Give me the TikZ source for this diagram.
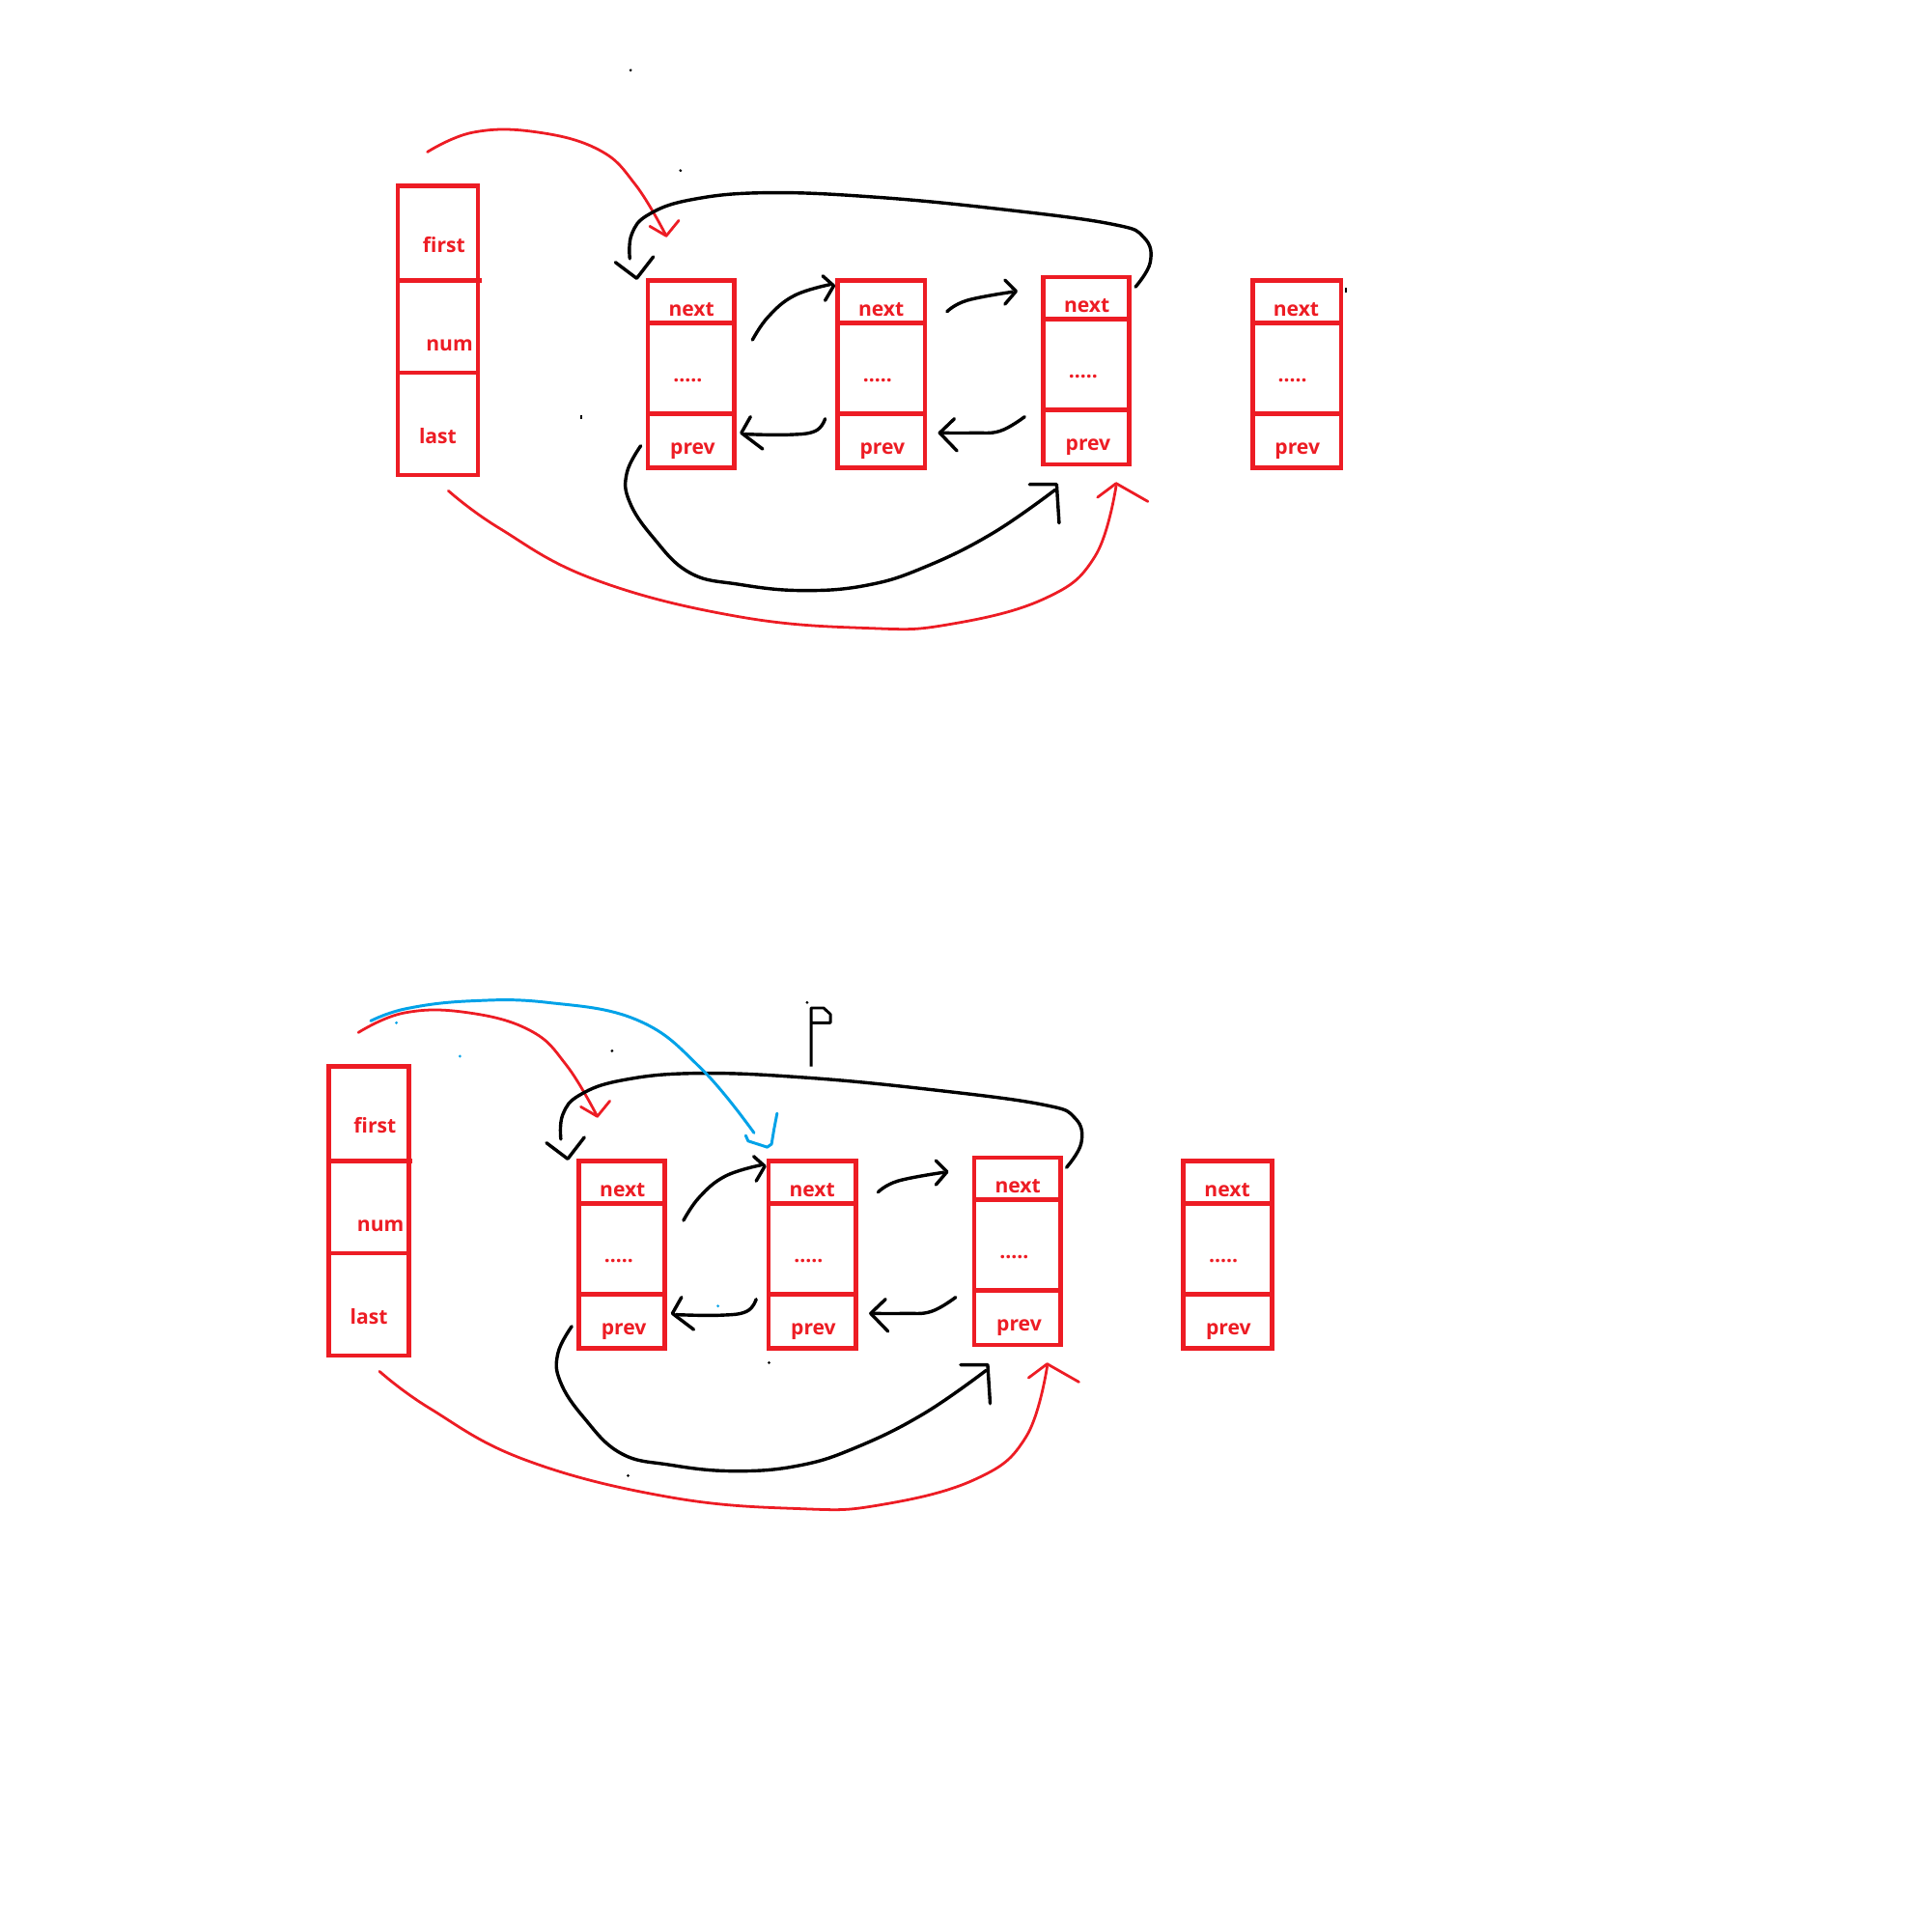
\documentclass[tikz,border=0pt]{standalone}
\usepackage{fontspec}
\setmainfont{Open Sans}
\definecolor{pred}{HTML}{ED1C24}
\definecolor{pblue}{HTML}{00A2E8}
\tikzset{
  rbox/.style={draw=pred, line width=1.05pt},
  lbl/.style={text=pred, font=\fontsize{4.7}{5}\selectfont\bfseries, inner sep=0pt, anchor=base},
  blk/.style={draw=black, line width=0.76pt, line cap=round, line join=round},
  redc/.style={draw=pred, line width=0.62pt, line cap=round, line join=round},
  bluec/.style={draw=pblue, line width=0.66pt, line cap=round, line join=round},
  crv/.style={smooth, tension=0.7},
}
% list node: name, left, top, width
\newcommand\lnode[4]{%
  \node[rbox, inner sep=0pt, outer sep=0pt, minimum width=#4*0.01cm, minimum height=1.52cm, anchor=north west] (#1) at (#2,#3) {};
  \draw[rbox] (#2,#3+34) -- ++(#4,0);
  \draw[rbox] (#2,#3+108) -- ++(#4,0);
  \node[lbl] (#1x) at (#2+35.5,#3+28.5) {next};
  \node[lbl] (#1d) at (#2+32.5,#3+82) {.....};
  \node[lbl] (#1p) at (#2+36.5,#3+141) {prev};
}
\newcommand\llscene[1]{%
  % struct box
  \node[rbox, inner sep=0pt, outer sep=0pt, minimum width=0.65cm, minimum height=2.345cm, anchor=north west] (#1s) at (323,151) {};
  \draw[rbox] (323,227.5) -- (391,227.5);
  \draw[rbox] (323,302.5) -- (388,302.5);
  \node[lbl] (#1first) at (360.5,205) {first};
  \node[lbl] (#1num) at (365,285) {num};
  \node[lbl] (#1last) at (355.5,360) {last};
  % list nodes
  \lnode{#1n1}{526}{228}{70}
  \lnode{#1n2}{680}{228}{71}
  \lnode{#1n3}{847}{225}{70}
  \lnode{#1n4}{1017}{228}{72}
  % first -> node1 (red)
  \coordinate (#1fA) at (347,123.4);
  \coordinate (#1fB) at (541,191.5);
  \draw[redc] plot[crv] coordinates {(#1fA) (384,107.5) (434,107) (486,121.5) (516,150) (#1fB)};
  \draw[redc] (527.6,183.7) -- (#1fB) -- (551.2,179);
  % node3 next -> node1 (black, over the top)
  \coordinate (#1tA) at (922,233);
  \coordinate (#1tB) at (511.4,210);
  \coordinate (#1tT) at (517,226);
  \draw[blk] plot[crv] coordinates {(#1tA) (934,213) (929,193) (903,182) (814,170) (710,160) (622,156.5) (562,162) (527,174) (513,190) (#1tB)};
  \draw[blk] (499.7,213) -- (#1tT) -- (530.5,208.5);
  % node1 -> node2 next
  \coordinate (#1aA) at (611,276);
  \coordinate (#1aT) at (677,232);
  \draw[blk] plot[crv] coordinates {(#1aA) (624,257) (645,240) (674,231)};
  \draw[blk] (668,224) -- (#1aT) -- (670,244);
  % node2 -> node3 next
  \coordinate (#1bA) at (769,253);
  \coordinate (#1bT) at (825,236.5);
  \draw[blk] plot[crv] coordinates {(#1bA) (785,244) (822,237)};
  \draw[blk] (816,227.4) -- (#1bT) -- (816,247);
  % node2 -> node1 prev
  \coordinate (#1cA) at (670,340);
  \coordinate (#1cT) at (602,351.5);
  \draw[blk] plot[crv] coordinates {(#1cA) (662,350) (640,353) (605,352.5)};
  \draw[blk] (609.4,338.4) -- (#1cT) -- (619.3,364.6);
  % node3 -> node2 prev
  \coordinate (#1dA) at (832,338.4);
  \coordinate (#1dT) at (763,351.5);
  \draw[blk] plot[crv] coordinates {(#1dA) (812,350) (790,351.5) (766,351.5)};
  \draw[blk] (775,340) -- (#1dT) -- (777,366);
  % node1 prev -> node3 (black, underneath)
  \coordinate (#1eA) at (520.3,362);
  \coordinate (#1eB) at (856.7,397.8);
  \draw[blk] plot[crv] coordinates {(#1eA) (509,384) (511,407) (530,436) (560,465) (600,474.5) (652,479.5) (705,475) (752,460) (806,433) (#1eB)};
  \draw[blk] (836,393.3) -- (858,393.3) -- (860,424.7);
  % last -> node3 (red)
  \coordinate (#1gA) at (364.1,398.5);
  \coordinate (#1gT) at (906.3,392.5);
  \draw[redc] plot[crv] coordinates {(#1gA) (405,428.6) (482.4,470.4) (598.6,500.5) (706.2,510.1) (770.7,507) (848.1,486.1) (889,452) (906.3,394.6)};
  \draw[redc] (891.2,403.8) -- (#1gT) -- (932.1,407.2);
}
\begin{document}
\begin{tikzpicture}[x=0.01cm, y=-0.01cm]
  \fill[white] (0,0) rectangle (1568,1568);
  \useasboundingbox (0,0) rectangle (1568,1568);
  \llscene{A}
  \begin{scope}[shift={(-56,715)}]
    \llscene{B}
  \end{scope}
  % blue pointer (second picture only)
  \coordinate (pA) at (301,829);
  \coordinate (pB) at (612.3,919.9);
  \draw[bluec] plot[crv] coordinates {(pA) (330,819) (382,812.8) (444.5,814) (517.7,828.4) (569.3,867.6) (pB)};
  \draw[bluec] (605.5,922) -- (607.5,926.5) -- (623,931.5) -- (626.5,929) -- (628.5,917) -- (631,904);
  % hand-drawn P
  \draw[blk, line width=0.65pt, line cap=butt] (658.6,866) -- (658.6,818.5) -- (668.8,818.5) -- (674.3,823.5) -- (674.3,830.5) -- (658.6,830.5);
  % stray specks
  \foreach \px/\py in {512/57, 552.6/138.5, 655.4/814, 497/853.3, 624.4/1106.5, 510/1198.2}
    \fill[black] (\px,\py) circle[radius=0.012cm];
  \draw[black, line width=0.4pt] (1093,234) -- (1093,237.5);
  \draw[black, line width=0.5pt] (471.7,337) -- (471.7,340);
  \foreach \px/\py in {321.9/830.5, 373.5/857.7, 583/1060.5}
    \fill[pblue] (\px,\py) circle[radius=0.012cm];
\end{tikzpicture}
\end{document}
